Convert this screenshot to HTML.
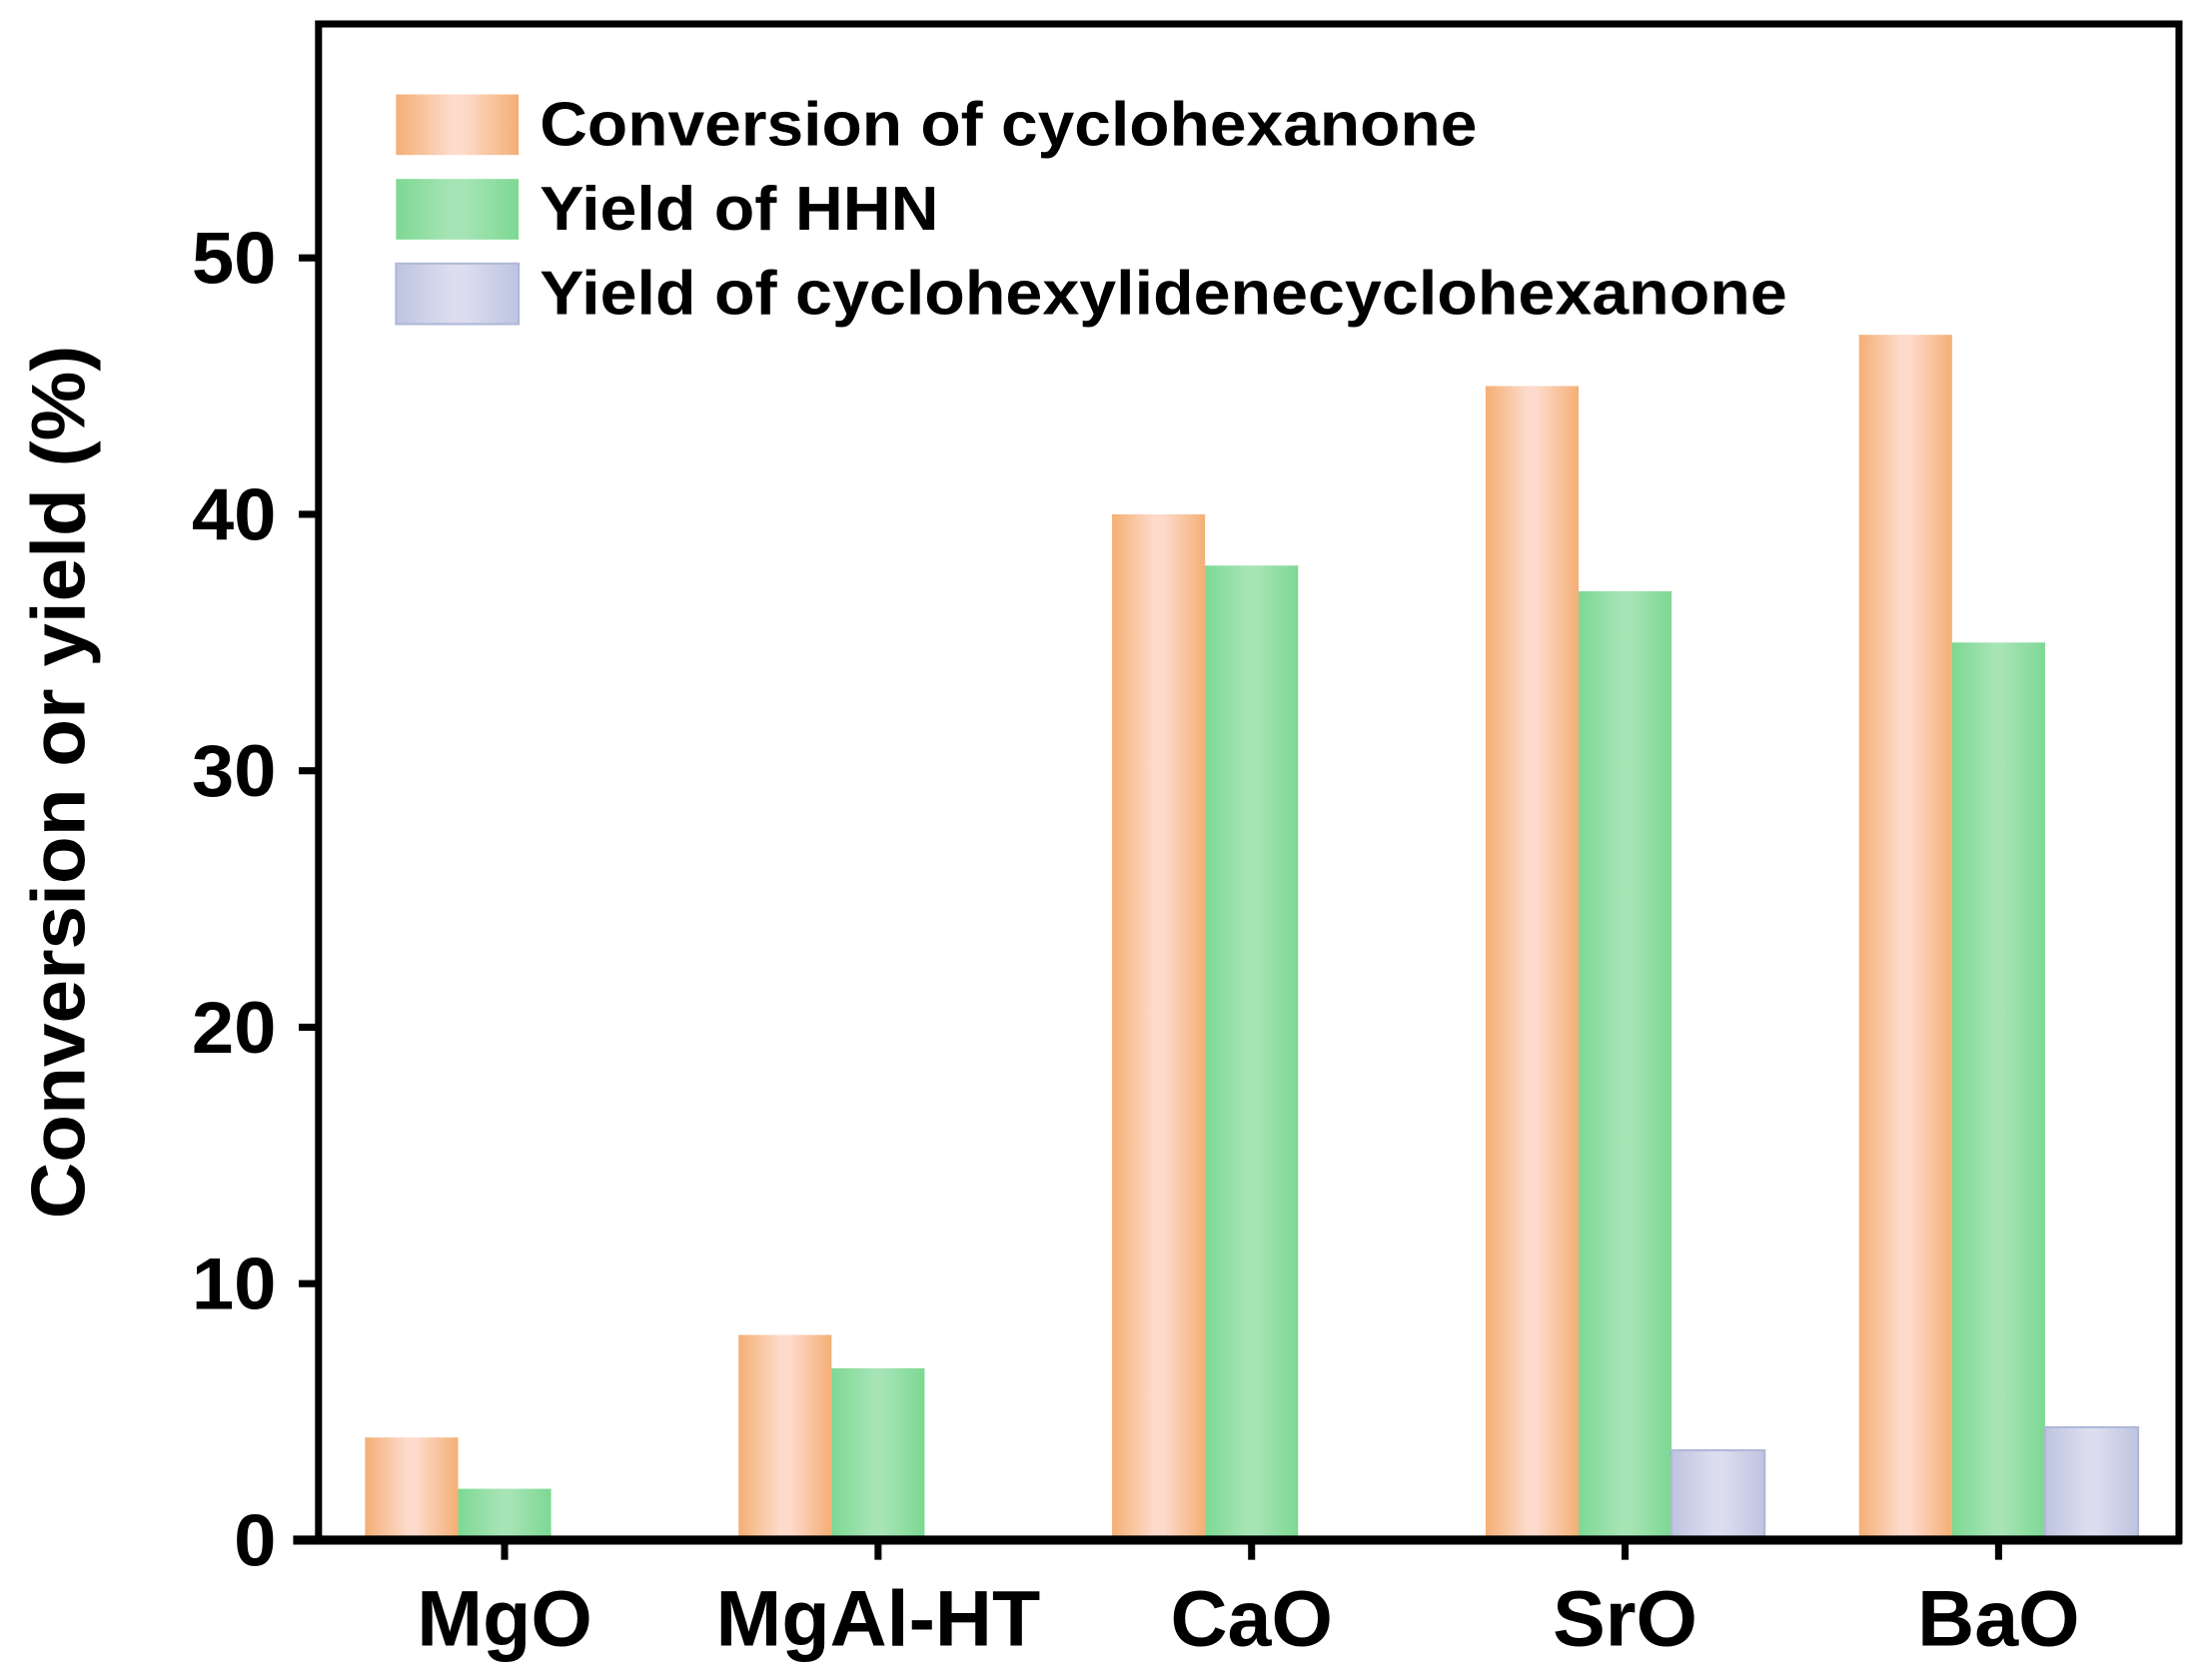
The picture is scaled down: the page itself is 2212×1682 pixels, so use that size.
<!DOCTYPE html>
<html><head><meta charset="utf-8"><style>html,body{margin:0;padding:0;background:#fff}svg{display:block}text{font-family:"Liberation Sans",Arial,sans-serif;font-weight:bold;fill:#000}</style></head>
<body>
<svg id="chart" width="2212" height="1682" viewBox="0 0 1568 1192.3" xmlns="http://www.w3.org/2000/svg">
<defs>
<linearGradient id="gO" x1="0" x2="1" y1="0" y2="0"><stop offset="0" stop-color="#F4AF74"/><stop offset="0.45" stop-color="#FDDACB"/><stop offset="0.55" stop-color="#FDDACB"/><stop offset="1" stop-color="#F4AF74"/></linearGradient>
<linearGradient id="gG" x1="0" x2="1" y1="0" y2="0"><stop offset="0" stop-color="#7DD892"/><stop offset="0.45" stop-color="#A6E4B6"/><stop offset="0.55" stop-color="#A6E4B6"/><stop offset="1" stop-color="#7DD892"/></linearGradient>
<linearGradient id="gB" x1="0" x2="1" y1="0" y2="0"><stop offset="0" stop-color="#BEC4E0"/><stop offset="0.45" stop-color="#DCDDEF"/><stop offset="0.55" stop-color="#DCDDEF"/><stop offset="1" stop-color="#BEC4E0"/></linearGradient>
</defs>
<g id="bars"></g>
<rect x="226" y="17" width="1320" height="1076" fill="none" stroke="#000" stroke-width="5"/>
<line x1="208" y1="1093" x2="1548" y2="1093" stroke="#000" stroke-width="6.5"/>
<g id="axes"></g>
<g>
<rect x="281" y="67" width="87" height="43" fill="url(#gO)"/>
<text x="383" y="103" font-size="44" textLength="665" lengthAdjust="spacingAndGlyphs">Conversion of cyclohexanone</text>
<rect x="281" y="127" width="87" height="43" fill="url(#gG)"/>
<text x="383" y="163" font-size="44" textLength="283" lengthAdjust="spacingAndGlyphs">Yield of HHN</text>
<rect x="281" y="187" width="87" height="43" fill="url(#gB)" stroke="#B0B8D8" stroke-width="1.5"/>
<text x="383" y="223" font-size="44" textLength="885" lengthAdjust="spacingAndGlyphs">Yield of cyclohexylidenecyclohexanone</text>
</g>
<text transform="translate(60,555) rotate(-90)" text-anchor="middle" font-size="54" textLength="620" lengthAdjust="spacingAndGlyphs">Conversion or yield (%)</text>
</svg>
<script>
const categories = ["MgO","MgAl-HT","CaO","SrO","BaO"];
const conversion = [4, 8, 40, 45, 47];
const yieldHHN = [2, 6.7, 38, 37, 35];
const yieldCHC = [0, 0, 0, 3.5, 4.4];
const yTicks = [0, 10, 20, 30, 40, 50];
const NS = "http://www.w3.org/2000/svg";
const y0 = 1093, pxPerUnit = 18.2;
function yS(v){ return y0 - v*pxPerUnit; }
function xC(i){ return 358 + i*265; }
const bw = 66;
const bars = document.getElementById('bars');
const axes = document.getElementById('axes');
const series = [[conversion,"url(#gO)","conversion"],[yieldHHN,"url(#gG)","hhn"],[yieldCHC,"url(#gB)","cyclohexylidene"]];
series.forEach((s, k) => {
  s[0].forEach((v, i) => {
    if (v <= 0) return;
    const r = document.createElementNS(NS, 'rect');
    r.setAttribute('x', xC(i) - 1.5*bw + k*bw);
    r.setAttribute('y', yS(v));
    r.setAttribute('width', bw);
    r.setAttribute('height', y0 - yS(v));
    r.setAttribute('fill', s[1]);
    if (k === 2) { r.setAttribute('stroke', '#B0B8D8'); r.setAttribute('stroke-width', '1.5'); }
    
    
    bars.appendChild(r);
  });
});
yTicks.forEach(t => {
  const l = document.createElementNS(NS, 'line');
  l.setAttribute('x1', 212); l.setAttribute('x2', 226);
  l.setAttribute('y1', yS(t)); l.setAttribute('y2', yS(t));
  l.setAttribute('stroke', '#000'); l.setAttribute('stroke-width', '5');
  
  
  axes.appendChild(l);
  const tx = document.createElementNS(NS, 'text');
  tx.setAttribute('x', 196); tx.setAttribute('y', yS(t) + 18);
  tx.setAttribute('text-anchor', 'end'); tx.setAttribute('font-size', '52');
  tx.setAttribute('textLength', String(t).length * 30);
  tx.setAttribute('lengthAdjust', 'spacingAndGlyphs');
  tx.textContent = t;
  
  
  axes.appendChild(tx);
});
categories.forEach((c, i) => {
  const l = document.createElementNS(NS, 'line');
  l.setAttribute('x1', xC(i)); l.setAttribute('x2', xC(i));
  l.setAttribute('y1', y0); l.setAttribute('y2', y0 + 14);
  l.setAttribute('stroke', '#000'); l.setAttribute('stroke-width', '5');
  
  
  axes.appendChild(l);
  const tx = document.createElementNS(NS, 'text');
  tx.setAttribute('x', xC(i)); tx.setAttribute('y', 1168);
  tx.setAttribute('text-anchor', 'middle'); tx.setAttribute('font-size', '56');
  tx.textContent = c;
  
  
  axes.appendChild(tx);
});
</script>
</body></html>
